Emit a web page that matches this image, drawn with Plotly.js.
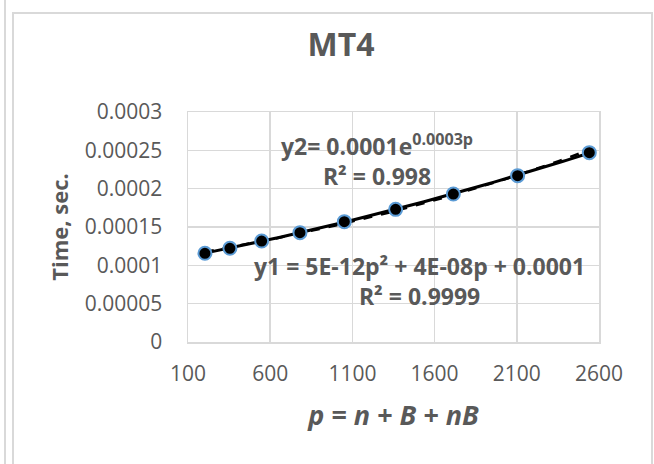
<!DOCTYPE html>
<html>
<head>
<meta charset="utf-8">
<script src="https://cdn.plot.ly/plotly-3.0.1.min.js"></script>
<style>
  html, body { margin: 0; padding: 0; background: #fff; }
  #wrap { position: relative; width: 654px; height: 464px; overflow: hidden; }
  #chart { position: absolute; left: 0; top: 0; width: 654px; height: 464px; }
  .bl { position: absolute; background: #d9d9d9; }
</style>
</head>
<body>
<div id="wrap">
  <div id="chart"></div>
  <div class="bl" style="left:4px;top:0;width:2px;height:464px;"></div>
  <div class="bl" style="left:12px;top:12px;width:2px;height:452px;"></div>
  <div class="bl" style="left:12px;top:12px;width:641px;height:2px;"></div>
  <div class="bl" style="left:651px;top:12px;width:2px;height:452px;"></div>
</div>
<script>
// Data
const p = [203, 355, 548, 781, 1051, 1363, 1714, 2105, 2541];
const time = [0.0001157, 0.0001222, 0.0001317, 0.0001426, 0.000157, 0.000173, 0.000193, 0.000217, 0.000247];

const xTicks = [100, 600, 1100, 1600, 2100, 2600];
const yTicks = [0, 0.00005, 0.0001, 0.00015, 0.0002, 0.00025, 0.0003];
const yTickText = ['0', '0.00005', '0.0001', '0.00015', '0.0002', '0.00025', '0.0003'];

const chartTitle = 'MT4';
const xTitle = '<b><i>p = n + B + nB</i></b>';
const yTitle = '<b>Time, sec.</b>';
const eqPoly = '<b>y1 = 5E-12p² + 4E-08p + 0.0001<br>R² = 0.9999</b>';
const eqExp = '<b>y2= 0.0001e<sup>0.0003p</sup><br>R² = 0.998</b>';

// Least-squares trendlines (quadratic and exponential), as Excel draws them
function solve3(A, b) {
  const M = A.map((r, i) => r.concat([b[i]]));
  for (let i = 0; i < 3; i++) {
    let mx = i;
    for (let k = i + 1; k < 3; k++) if (Math.abs(M[k][i]) > Math.abs(M[mx][i])) mx = k;
    [M[i], M[mx]] = [M[mx], M[i]];
    for (let k = i + 1; k < 3; k++) {
      const f = M[k][i] / M[i][i];
      for (let j = i; j < 4; j++) M[k][j] -= f * M[i][j];
    }
  }
  const x = [0, 0, 0];
  for (let i = 2; i >= 0; i--) {
    let s = M[i][3];
    for (let j = i + 1; j < 3; j++) s -= M[i][j] * x[j];
    x[i] = s / M[i][i];
  }
  return x;
}
const n = p.length;
const S = k => p.reduce((a, v) => a + Math.pow(v, k), 0);
const SY = k => p.reduce((a, v, i) => a + Math.pow(v, k) * time[i], 0);
const coef = solve3(
  [[n, S(1), S(2)], [S(1), S(2), S(3)], [S(2), S(3), S(4)]],
  [SY(0), SY(1), SY(2)]
);
const ly = time.map(Math.log);
const mx = S(1) / n, my = ly.reduce((a, v) => a + v, 0) / n;
let sxy = 0, sxx = 0;
p.forEach((v, i) => { sxy += (v - mx) * (ly[i] - my); sxx += (v - mx) * (v - mx); });
const bExp = sxy / sxx, aExp = Math.exp(my - bExp * mx);

const xs = [];
const pMin = Math.min(...p), pMax = Math.max(...p);
for (let i = 0; i <= 100; i++) xs.push(pMin + (pMax - pMin) * i / 100);
const yPoly = xs.map(x => coef[0] + coef[1] * x + coef[2] * x * x);
const yExpo = xs.map(x => aExp * Math.exp(bExp * x));

const traces = [
  { x: xs, y: yExpo, mode: 'lines', line: { color: '#000', width: 2.5, dash: 'dash' }, hoverinfo: 'skip' },
  { x: xs, y: yPoly, mode: 'lines', line: { color: '#000', width: 3 }, hoverinfo: 'skip' },
  { x: p, y: time, mode: 'markers',
    marker: { color: '#000', size: 13, line: { color: '#5B9BD5', width: 2 } } }
];

const grid = '#d9d9d9';
const txt = '#595959';
const layout = {
  width: 654, height: 464,
  margin: { l: 188, r: 55, t: 112, b: 122 },
  paper_bgcolor: 'rgba(0,0,0,0)', plot_bgcolor: '#fff',
  showlegend: false,
  font: { family: 'Open Sans, sans-serif', color: txt },
  title: { text: '<b>' + chartTitle + '</b>', font: { size: 32, color: txt },
           xref: 'container', yref: 'container', x: 341 / 654, xanchor: 'center', y: 1 - 45 / 464, yanchor: 'middle' },
  xaxis: {
    range: [100, 2600], tickvals: xTicks, ticktext: xTicks.map(String),
    showgrid: true, gridcolor: grid, gridwidth: 1.5, zeroline: false,
    showline: true, linecolor: grid, linewidth: 1.5, mirror: true,
    ticks: 'outside', ticklen: 12, tickcolor: 'rgba(0,0,0,0)',
    tickfont: { size: 21, color: txt },
    title: { text: xTitle, font: { size: 27, color: txt }, standoff: 20 }
  },
  yaxis: {
    range: [0, 0.0003], tickvals: yTicks, ticktext: yTickText,
    showgrid: true, gridcolor: grid, gridwidth: 1.5, zeroline: false,
    showline: true, linecolor: grid, linewidth: 1.5, mirror: true,
    ticks: 'outside', ticklen: 20, tickcolor: 'rgba(0,0,0,0)',
    tickfont: { size: 21, color: txt },
    title: { text: yTitle, font: { size: 22, color: txt }, standoff: 10 }
  },
  annotations: [
    { x: 1250, y: 0.000238, xref: 'x', yref: 'y', text: eqExp, showarrow: false,
      font: { size: 23, color: txt }, align: 'center', xanchor: 'center', yanchor: 'middle' },
    { x: 1511, y: 0.0000795, xref: 'x', yref: 'y', text: eqPoly, showarrow: false,
      font: { size: 23, color: txt }, align: 'center', xanchor: 'center', yanchor: 'middle' }
  ]
};

Plotly.newPlot('chart', traces, layout, { staticPlot: true, displayModeBar: false });
</script>
</body>
</html>
